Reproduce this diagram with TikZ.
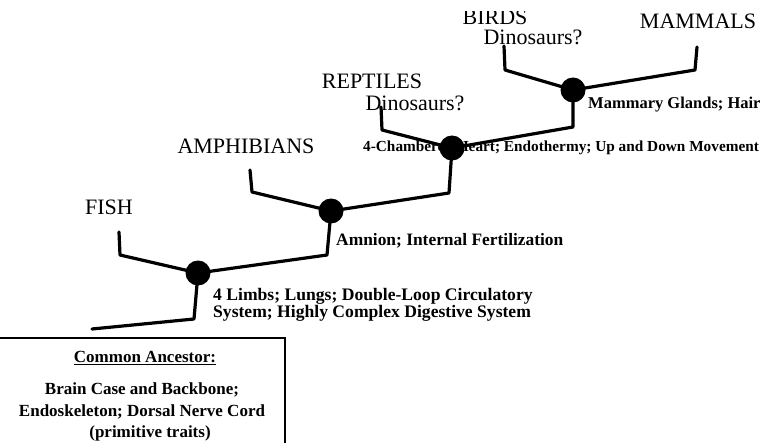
\documentclass[tikz,border=0pt]{standalone}
\usepackage{fontspec}
\setmainfont{Liberation Serif}
\begin{document}
\begin{tikzpicture}[x=1pt,y=-1pt,
  branch/.style={line width=3.2pt,line join=round,line cap=round},
  dotnode/.style={circle,fill=black,inner sep=0pt,minimum size=25pt},
  taxon/.style={inner sep=0pt,font=\fontsize{22}{24}\selectfont},
  trait/.style={inner sep=0pt,anchor=west,align=left,font=\fontsize{16.5}{17}\selectfont\bfseries},
  boxtext/.style={inner sep=0pt,font=\fontsize{17}{18}\selectfont\bfseries},
  boxline/.style={line width=2pt}]
\useasboundingbox (0,0) rectangle (783,443);
% taxa labels
\node[taxon] (fish) at (109,207) {FISH};
\node[taxon] (amph) at (246,146) {AMPHIBIANS};
\node[taxon] (rept) at (372,81) {REPTILES};
\node[taxon] (dino1) at (415,103) {Dinosaurs?};
\begin{scope}
\clip (440,12) rectangle (560,40);
\node[taxon] (birds) at (495,17) {BIRDS};
\end{scope}
\node[taxon] (dino2) at (533,37) {Dinosaurs?};
\node[taxon] (mamm) at (698,21) {MAMMALS};
% trait labels
\node[trait,font=\fontsize{17.6}{17}\selectfont\bfseries] (t1) at (213,305) {4 Limbs; Lungs; Double-Loop Circulatory\\System; Highly Complex Digestive System};
\node[trait,font=\fontsize{17.4}{17}\selectfont\bfseries] (t2) at (336,241) {Amnion; Internal Fertilization};
\node[trait,font=\fontsize{15.3}{17}\selectfont\bfseries] (t3) at (363,148) {4-Chambered Heart; Endothermy; Up and Down Movement};
\node[trait] (t4) at (588,105) {Mammary Glands; Hair};
% branch points
\coordinate (c1) at (198,273);
\coordinate (c2) at (331,211);
\coordinate (c3) at (452,148);
\coordinate (c4) at (573,90);
\coordinate (r1) at (194,319);
\coordinate (r0) at (92,329);
\coordinate (f1) at (120,255);
\coordinate (f0) at (119,232);
\coordinate (a1) at (327,255);
\coordinate (b1) at (252,192);
\coordinate (b0) at (250,170);
\coordinate (d1) at (449,193);
\coordinate (e1) at (382,130);
\coordinate (e0) at (381,107);
\coordinate (g1) at (573,127);
\coordinate (h1) at (505,70);
\coordinate (h0) at (504,46);
\coordinate (m1) at (695,70);
\coordinate (m0) at (697,47);
% branches
\draw[branch] (r0) -- (r1) -- (c1);
\draw[branch] (f0) -- (f1) -- (c1);
\draw[branch] (c1) -- (a1) -- (c2);
\draw[branch] (b0) -- (b1) -- (c2);
\draw[branch] (c2) -- (d1) -- (c3);
\draw[branch] (e0) -- (e1) -- (c3);
\draw[branch] (c3) -- (g1) -- (c4);
\draw[branch] (h0) -- (h1) -- (c4);
\draw[branch] (m0) -- (m1) -- (c4);
% nodes
\node[dotnode] (n1) at (c1) {};
\node[dotnode] (n2) at (c2) {};
\node[dotnode] (n3) at (c3) {};
\node[dotnode] (n4) at (c4) {};
% ancestor box
\draw[boxline] (-5,338) -- (285,338) -- (285,450);
\node[boxtext,font=\fontsize{17}{18}\selectfont\bfseries] (anc) at (145,358) {\underline{Common Ancestor:}};
\node[boxtext] (anc1) at (142,390) {Brain Case and Backbone;};
\node[boxtext] (anc2) at (142,412) {Endoskeleton; Dorsal Nerve Cord};
\node[boxtext] (anc3) at (150,433) {(primitive traits)};
\end{tikzpicture}
\end{document}
